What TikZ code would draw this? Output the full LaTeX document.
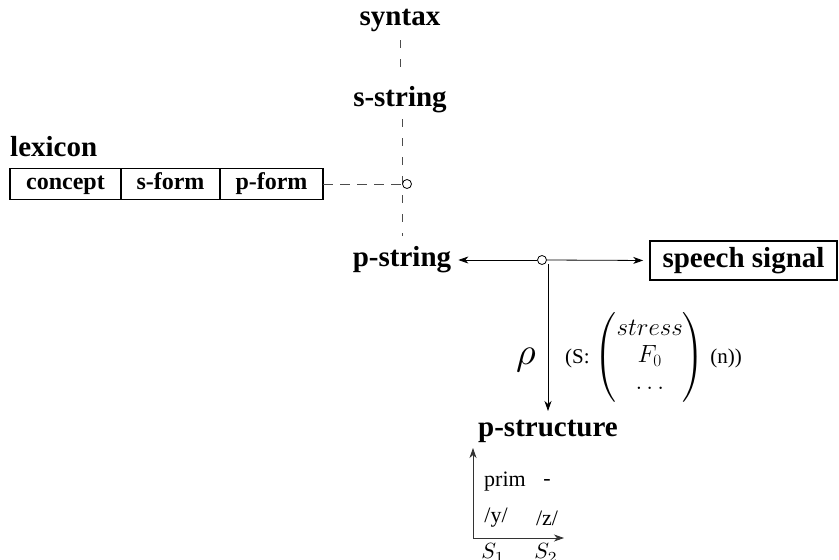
\documentclass[tikz,border=0pt]{standalone}
\usepackage{amsmath}
\usepackage{graphicx}
\usepackage{fontspec}
\setmainfont{Liberation Serif}
\usetikzlibrary{arrows.meta}
\tikzset{
  lbl/.style={font=\fontsize{29}{33}\selectfont\bfseries, inner sep=0pt},
  cell/.style={draw, line width=1.6pt, font=\fontsize{24}{28}\selectfont\bfseries, minimum height=31pt, text height=16pt, text depth=5pt, inner sep=0pt, outer sep=0pt, anchor=west},
  dot/.style={draw, circle, line width=0.8pt, minimum size=9pt, inner sep=0pt},
  vdash/.style={draw=black!70, line width=0.8pt, dash pattern=on 8pt off 11pt},
  hdash/.style={draw=black!70, line width=0.8pt, dash pattern=on 10pt off 7pt},
  arr/.style={line width=0.8pt, -{Stealth[length=10pt,width=7pt,inset=3pt]}},
  small/.style={font=\fontsize{22}{26}\selectfont, inner sep=0pt},
}
\begin{document}
\begin{tikzpicture}[x=1pt,y=-1pt]
\useasboundingbox (0,0) rectangle (839,560);
% top column
\node[lbl] (syntax) at (400,20) {syntax};
\node[lbl] (sstring) at (400,100) {s-string};
\node[lbl, text height=20pt, text depth=7pt] (pstring) at (402,260) {p-string};
\draw[vdash] (400,40) -- (400,76);
\coordinate (vtop) at (402,119);
\coordinate (vbot) at (402,236);
\draw[vdash] (vtop) -- (vbot);
% lexicon
\node[lbl, anchor=west] (lexicon) at (10,147) {lexicon};
\node[cell, minimum width=111pt] (concept) at (10,184) {concept};
\node[cell, minimum width=99pt] (sform) at (concept.east) {s-form};
\node[cell, minimum width=103pt] (pform) at (sform.east) {p-form};
\node[dot] (c1) at (407,184) {};
\draw[hdash] (pform.east) -- (c1.west);
% p-string row
\node[dot] (c2) at (542,260) {};
\node[draw, line width=1.6pt, font=\fontsize{29}{33}\selectfont\bfseries, minimum width=187pt, minimum height=39pt, text height=20pt, text depth=7pt, inner sep=0pt] (speech) at (743.5,260.5) {speech signal};
\draw[arr, shorten >=7pt] (c2.west) -- (pstring.east);
\draw[arr, shorten >=6pt] (c2.east) -- (speech.west);
% rho arrow
\node[lbl] (pstructure) at (548,431) {p-structure};
\coordinate (rtop) at (548,264);
\draw[arr] (rtop) -- (548,411);
\node[inner sep=0pt] (rho) at (526,360) {\scalebox{3.8}{$\rho$}};
\node[inner sep=0pt, anchor=west, font=\fontsize{21}{25}\selectfont] (feat) at (565,357)
  {(S: \fontsize{23}{27}\selectfont$\begin{pmatrix}stress\\F_0\\\ldots\end{pmatrix}$ \fontsize{21}{25}\selectfont(n))};
% axes
\coordinate (origin) at (473,538);
\coordinate (ytip) at (473,448);
\coordinate (xtip) at (564,538);
\draw[arr, draw=black!80] (origin) -- (ytip);
\draw[arr, draw=black!80] (origin) -- (xtip);
\node[small] (prim) at (505,482) {prim};
\node[small] (dash) at (547,482) {-};
\node[small] (y) at (496,518) {/y/};
\node[small] (z) at (547,518) {/z/};
\node[inner sep=0pt] (s1) at (493,553) {\scalebox{2.2}{$S_1$}};
\node[inner sep=0pt] (s2) at (546,553) {\scalebox{2.2}{$S_2$}};
\end{tikzpicture}
\end{document}
